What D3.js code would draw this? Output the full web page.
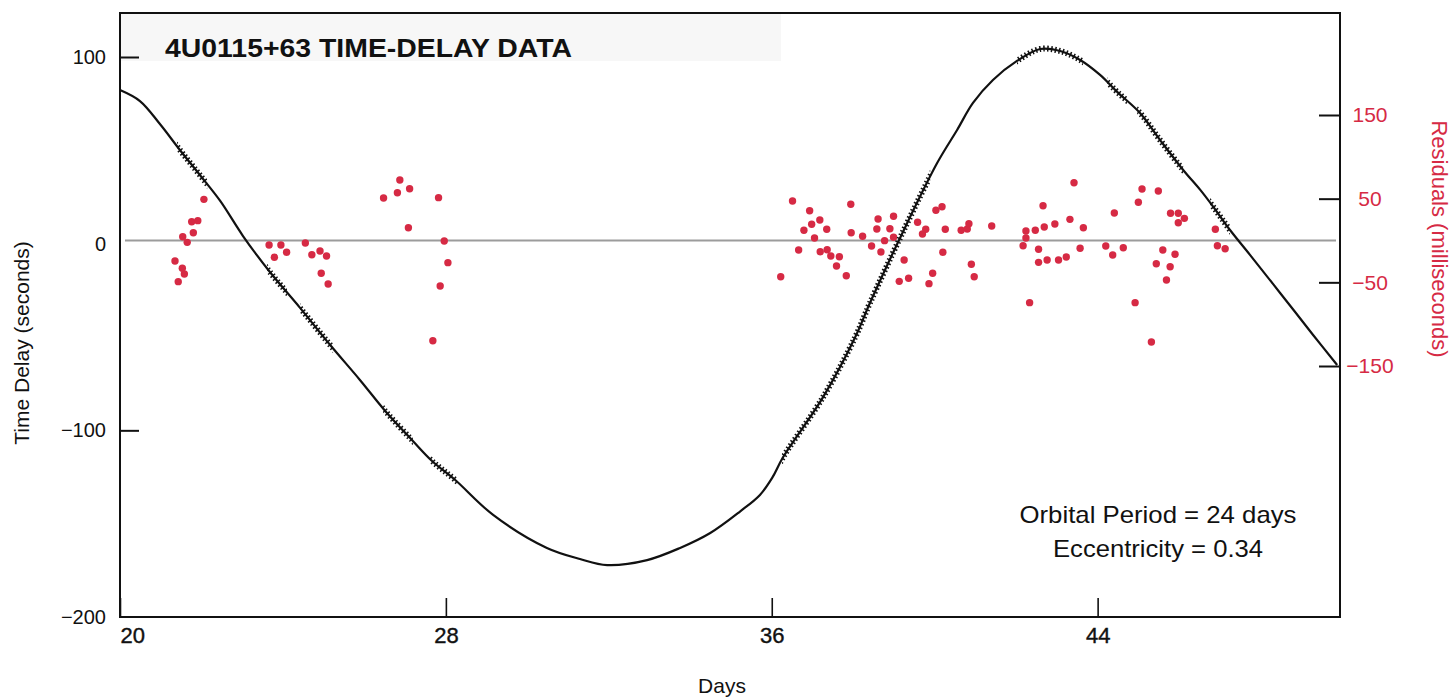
<!DOCTYPE html>
<html>
<head>
<meta charset="utf-8">
<script src="https://cdn.jsdelivr.net/npm/d3@7"></script>
<style>
  body { margin: 0; background: #fff; }
  text { font-family: "Liberation Sans", Arial, Helvetica, sans-serif; }
</style>
</head>
<body>
<svg id="chart" width="1452" height="698"></svg>
<script>
// Axis ticks
const dayTicks = [20, 28, 36, 44];
const delayTicks = [100, 0, -100, -200];
const residualTicks = [150, 50, -50, -150];

// Fitted orbital time-delay curve (days, seconds)
const curveDays = [20.00, 20.49, 20.98, 21.47, 21.96, 22.46, 23.02, 23.68, 24.42, 25.16,
  25.89, 26.51, 27.19, 27.66, 28.23, 29.16, 30.48, 31.29, 31.96, 32.94,
  33.75, 34.49, 35.22, 35.71, 36.01, 36.28, 37.26, 38.05, 38.41, 39.22,
  40.06, 40.55, 40.94, 41.43, 42.02, 42.59, 43.08, 43.57, 44.06, 44.48,
  45.04, 45.53, 46.10, 46.52, 46.84, 47.25, 47.74, 48.48, 49.29, 49.88];
const curveDelay = [82.3, 76.4, 64.1, 50.2, 36.8, 22.9, 4.1, -15.2, -34.4, -54.3,
  -73.0, -89.6, -105.7, -116.4, -126.6, -145.3, -163.0, -168.9, -172.2, -169.5,
  -163.0, -155.0, -143.5, -134.6, -125.5, -114.3, -82.2, -50.0, -31.8, 6.3,
  43.2, 60.9, 75.4, 87.7, 97.9, 104.3, 103.2, 98.4, 90.4, 81.3,
  70.0, 55.6, 39.5, 28.8, 19.7, 7.3, -6.0, -26.4, -48.9, -65.0];

// Intervals with pulse-arrival measurements (days)
const spanStart = [21.40, 23.61, 24.42, 26.46, 27.61, 36.25, 42.02, 44.23, 44.97, 46.76];
const spanEnd   = [22.14, 24.10, 25.23, 27.19, 28.27, 39.89, 43.64, 44.72, 46.10, 47.25];

// Timing residuals (days, milliseconds)
const residualDays = [
  21.35, 21.53, 21.58, 21.43, 21.65, 21.54, 21.80, 21.76, 21.91, 22.06,
  23.66, 23.79, 23.95, 24.09, 24.55, 24.71, 24.91, 25.07, 24.94, 25.11,
  26.47, 26.81, 26.87, 27.11, 27.08, 27.82, 27.96, 28.05, 27.86, 27.68,
  36.22, 36.51, 36.66, 36.79, 36.93, 36.98, 37.05, 37.18, 37.35, 37.19,
  37.36, 37.45, 37.66, 37.59, 37.83, 37.94, 37.95, 38.23, 38.45, 38.61,
  38.58, 38.68, 38.77, 38.90, 38.99, 38.99, 39.13, 39.25, 39.36, 39.58,
  39.70, 39.78, 40.03, 40.18, 40.20, 39.95, 39.86, 40.26, 40.65, 40.80,
  40.84, 40.90, 40.97, 41.40, 42.17, 42.24, 42.24, 42.33, 42.47, 42.55,
  42.55, 42.66, 42.69, 42.76, 42.95, 43.04, 43.23, 43.32, 43.42, 43.57,
  43.65, 44.20, 44.37, 44.41, 44.63, 44.92, 45.00, 45.09, 45.32, 45.44,
  45.49, 45.60, 45.69, 45.79, 45.78, 45.90, 45.98, 45.98, 46.13, 46.89,
  46.94, 47.13];
const residualMs = [
  -24.5, -33.2, -40.0, -49.2, -2.2, 4.5, 9.3, 22.5, 23.7, 49.2,
  -5.4, -20.1, -5.4, -14.1, -3.0, -17.0, -12.5, -18.5, -39.2, -52.0,
  50.8, 57.1, 72.3, 61.9, 15.3, 51.2, -0.6, -26.5, -54.4, -119.8,
  -43.3, 47.2, -11.4, 12.2, 35.6, 19.4, 3.0, 24.5, 13.4, -13.4,
  -11.0, -18.5, -19.4, -30.5, -42.1, 43.3, 9.3, 5.0, -6.6, 25.7,
  13.7, -13.7, -0.2, 14.1, 28.9, 3.8, -48.8, -23.3, -45.2, 21.8,
  7.8, 13.4, 36.1, 40.4, -14.1, -39.2, -51.6, 13.4, 12.2, 13.7,
  20.1, -28.4, -43.3, 17.3, -6.2, 11.4, 3.0, -74.3, 12.2, -10.5,
  -26.1, 41.6, 16.1, -23.3, 19.7, -23.3, -19.7, 25.3, 69.1, -9.3,
  15.3, -6.6, -17.3, 32.9, -8.6, -74.3, 45.7, 61.5, -121.3, -27.7,
  59.2, -11.4, -47.2, 32.5, -31.3, -16.5, 32.5, 21.3, 26.5, 13.4,
  -6.2, -9.8];

const RED = "#d62a44";
const svg = d3.select("#chart");

const x = d3.scaleLinear().domain([20, 49.95]).range([120, 1340]);
const yDelay = d3.scaleLinear().domain([-200, 100]).range([617, 57]);
const yRes = d3.scaleLinear().domain([-150, 150]).range([366, 115]);

const plotTop = 13, plotBottom = 617, plotLeft = x.range()[0], plotRight = x.range()[1];

// Title panel
svg.append("rect")
  .attr("x", plotLeft + 1).attr("y", plotTop + 1)
  .attr("width", 660).attr("height", 47)
  .attr("fill", "#f7f7f7");

svg.append("text")
  .attr("x", 165).attr("y", 57)
  .attr("font-size", 25).attr("font-weight", "bold")
  .attr("textLength", 407).attr("lengthAdjust", "spacingAndGlyphs")
  .attr("fill", "#111")
  .text("4U0115+63 TIME-DELAY DATA");

// Residual zero reference line
svg.append("line")
  .attr("x1", plotLeft + 5).attr("x2", plotRight - 4)
  .attr("y1", yRes(0)).attr("y2", yRes(0))
  .attr("stroke", "#9c9c9c").attr("stroke-width", 2);

// Residual points
svg.append("g").selectAll("circle")
  .data(residualDays.map((d, i) => ({ day: d, ms: residualMs[i] })))
  .join("circle")
  .attr("cx", d => x(d.day))
  .attr("cy", d => yRes(d.ms))
  .attr("r", 3.7)
  .attr("fill", RED);

// Time-delay curve
const pts = curveDays.map((d, i) => ({ day: d, delay: curveDelay[i] }));
const line = d3.line().x(d => x(d.day)).y(d => yDelay(d.delay)).curve(d3.curveCatmullRom.alpha(0.5));

svg.append("path")
  .attr("d", line(pts))
  .attr("fill", "none").attr("stroke", "#111").attr("stroke-width", 2.2)
  .attr("stroke-linejoin", "round");

// Denser texture where timing measurements exist
const clip = svg.append("defs").append("clipPath").attr("id", "obs");
clip.selectAll("rect")
  .data(spanStart.map((s, i) => [s, spanEnd[i]]))
  .join("rect")
  .attr("x", d => x(d[0])).attr("width", d => x(d[1]) - x(d[0]))
  .attr("y", plotTop).attr("height", plotBottom - plotTop);

svg.append("path")
  .attr("d", line(pts))
  .attr("clip-path", "url(#obs)")
  .attr("fill", "none").attr("stroke", "#111").attr("stroke-width", 6)
  .attr("stroke-dasharray", "1.5,2.4");

// Frame
svg.append("rect")
  .attr("x", plotLeft).attr("y", plotTop)
  .attr("width", plotRight - plotLeft).attr("height", plotBottom - plotTop)
  .attr("fill", "none").attr("stroke", "#111").attr("stroke-width", 2);

// Bottom axis
const gx = svg.append("g")
  .attr("transform", `translate(0,${plotBottom})`)
  .call(d3.axisBottom(x).tickValues(dayTicks).tickSizeInner(-19).tickSizeOuter(0).tickPadding(10));
gx.select(".domain").remove();
gx.selectAll("line").attr("stroke", "#111").attr("stroke-width", 1.6);
gx.selectAll("text").attr("font-size", 22).attr("fill", "#111")
  .attr("stroke", "#111").attr("stroke-width", 0.4);
gx.selectAll(".tick").filter(d => d === 20).select("text").attr("text-anchor", "start");

// Left axis
const gy = svg.append("g")
  .attr("transform", `translate(${plotLeft},0)`)
  .call(d3.axisLeft(yDelay).tickValues(delayTicks).tickFormat(d3.format("d"))
    .tickSizeInner(-19).tickSizeOuter(0).tickPadding(14));
gy.select(".domain").remove();
gy.selectAll("line").attr("stroke", "#111").attr("stroke-width", 2);
gy.selectAll(".tick").filter(d => d === 0 || d === -200).select("line").remove();
gy.selectAll("text").attr("font-size", 20).attr("fill", "#111");

// Right axis
const gr = svg.append("g")
  .attr("transform", `translate(${plotRight},0)`)
  .call(d3.axisRight(yRes).tickValues(residualTicks).tickFormat(d3.format("d"))
    .tickSizeInner(-21).tickSizeOuter(0).tickPadding(30));
gr.select(".domain").remove();
gr.selectAll("line").attr("stroke", "#111").attr("stroke-width", 2);
gr.selectAll("text").attr("font-size", 21).attr("fill", RED).attr("text-anchor", "middle");

// Axis titles
svg.append("text")
  .attr("transform", "translate(29,343) rotate(-90)")
  .attr("text-anchor", "middle").attr("font-size", 21).attr("fill", "#111")
  .text("Time Delay (seconds)");

svg.append("text")
  .attr("transform", "translate(1432,239) rotate(90)")
  .attr("text-anchor", "middle").attr("font-size", 22).attr("fill", RED)
  .text("Residuals (milliseconds)");

svg.append("text")
  .attr("x", 722).attr("y", 693)
  .attr("text-anchor", "middle").attr("font-size", 21).attr("fill", "#111")
  .text("Days");

// Orbit annotation
svg.append("text")
  .attr("x", 1158).attr("y", 523)
  .attr("text-anchor", "middle").attr("font-size", 24).attr("fill", "#111")
  .attr("textLength", 277).attr("lengthAdjust", "spacingAndGlyphs")
  .text("Orbital Period = 24 days");
svg.append("text")
  .attr("x", 1158).attr("y", 557)
  .attr("text-anchor", "middle").attr("font-size", 24).attr("fill", "#111")
  .attr("textLength", 210).attr("lengthAdjust", "spacingAndGlyphs")
  .text("Eccentricity = 0.34");
</script>
</body>
</html>
